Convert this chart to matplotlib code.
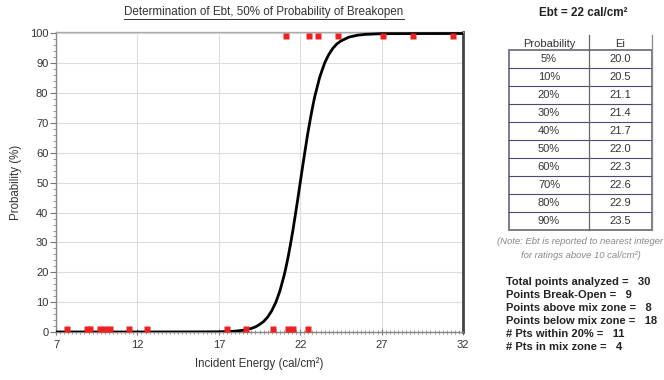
import matplotlib
matplotlib.use("Agg")
import matplotlib.pyplot as plt
from matplotlib.lines import Line2D
from matplotlib.patches import Rectangle
from matplotlib.ticker import MultipleLocator

plt.rcParams['font.family'] = ['Liberation Sans', 'DejaVu Sans']

# ---------------- data ----------------
broke_x = [21.1, 22.56, 23.1, 24.35, 27.06, 28.95, 31.37]
broke_y = [99, 99, 99, 99, 99, 99, 99]
held_x = [7.66, 8.9, 9.1, 9.7, 10.0, 10.3, 11.5, 12.6, 17.5, 18.7, 20.3, 21.25, 21.56, 22.5]
held_y = [1, 1, 1, 1, 1, 1, 1, 1, 1, 1, 1, 1, 1, 1]

curve_x = [7, 12, 15, 17, 18, 18.5, 19, 19.25, 19.5, 19.75, 20.0, 20.25, 20.5, 20.75,
           21.0, 21.1, 21.25, 21.4, 21.55, 21.7, 21.85, 22.0, 22.15, 22.3, 22.45, 22.6,
           22.75, 22.9, 23.2, 23.5, 23.75, 24.0, 24.25, 24.5, 25.0, 25.5, 26.0, 27.0, 32.0]
curve_y = [0, 0, 0.01, 0.06, 0.28, 0.58, 1.2, 1.7, 2.5, 3.5, 5.0, 7.1, 9.9, 13.7,
           18.7, 21.0, 24.9, 29.3, 34.0, 39.2, 44.5, 50.0, 55.5, 60.8, 66.0, 70.7,
           75.1, 79.0, 85.4, 90.1, 92.9, 95.0, 96.5, 97.5, 98.8, 99.4, 99.7, 99.94, 100]

table_prob = ['5%', '10%', '20%', '30%', '40%', '50%', '60%', '70%', '80%', '90%']
table_ei = [20.0, 20.5, 21.1, 21.4, 21.7, 22.0, 22.3, 22.6, 22.9, 23.5]

stats_labels = ['Total points analyzed =', 'Points Break-Open =', 'Points above mix zone =',
                'Points below mix zone =', '# Pts within 20% =', '# Pts in mix zone =']
stats_values = [30, 9, 8, 18, 11, 4]

x_ticks = [7, 12, 17, 22, 27, 32]
y_ticks = [0, 10, 20, 30, 40, 50, 60, 70, 80, 90, 100]

title = 'Determination of Ebt, 50% of Probability of Breakopen'
ebt_text = 'Ebt = 22 cal/cm\u00b2'

# ---------------- figure ----------------
W, H = 664, 380
fig = plt.figure(figsize=(W / 100, H / 100), dpi=100)


def fx(px):
    return px / W


def fy(py):
    return 1 - py / H


ax = fig.add_axes([fx(56), fy(332), fx(463) - fx(56), fy(32) - fy(332)])
ax.set_xlim(7, 32)
ax.set_ylim(0, 100.5)

ax.plot(curve_x, curve_y, color='black', lw=2.0, zorder=3, solid_capstyle='round',
        solid_joinstyle='round')
ax.plot(held_x, held_y, 's', color='#ee2020', ms=4.5, mec='none', zorder=4, clip_on=False)
ax.plot(broke_x, broke_y, 's', color='#ee2020', ms=4.5, mec='none', zorder=4, clip_on=False)

ax.set_xticks(x_ticks)
ax.set_yticks(y_ticks)
ax.xaxis.set_minor_locator(MultipleLocator(0.25))
ax.yaxis.set_minor_locator(MultipleLocator(2))
ax.grid(True, which='major', color='#dcdcdc', lw=0.8)
ax.tick_params(axis='both', which='major', labelsize=8, length=4, color='#777777',
               labelcolor='#333333')
ax.tick_params(axis='x', which='major', pad=4)
ax.tick_params(axis='y', which='major', pad=1.5)
ax.tick_params(axis='both', which='minor', length=2.5, color='#888888')
ax.tick_params(axis='x', which='both', direction='inout')
ax.tick_params(axis='y', which='both', direction='out')

for s in ['left', 'bottom']:
    ax.spines[s].set_color('#888888')
    ax.spines[s].set_linewidth(1.0)
ax.spines['top'].set_color('#aaaaaa')
ax.spines['top'].set_linewidth(1.0)
ax.spines['right'].set_color('#444444')
ax.spines['right'].set_linewidth(2.0)

ax.set_xlabel('Incident Energy (cal/cm\u00b2)', fontsize=8.3, color='#333333', labelpad=5)
ax.set_ylabel('Probability (%)', fontsize=8.3, color='#333333', labelpad=6)

# title with underline
t = fig.text(fx(264), fy(12), title, ha='center', va='center', fontsize=8.4, color='#333333')
fig.canvas.draw()
bb = t.get_window_extent(fig.canvas.get_renderer())
fig.add_artist(Line2D([bb.x0 / W, bb.x1 / W], [(bb.y0 - 1) / H, (bb.y0 - 1) / H],
                      transform=fig.transFigure, color='#333333', lw=0.7))

# right panel
fig.text(fx(583), fy(13), ebt_text, ha='center', va='center', fontsize=8.4,
         fontweight='bold', color='#222222')

tl, tr, td = 509, 652, 589
top, row_h = 50, 18
nrows = len(table_prob)
bottom = top + row_h * nrows

fig.text(fx((tl + td) / 2), fy(44), 'Probability', ha='center', va='center',
         fontsize=8, color='#333333')
fig.text(fx((td + tr) / 2), fy(44), 'Ei', ha='center', va='center',
         fontsize=8, color='#333333')

for i, (p, e) in enumerate(zip(table_prob, table_ei)):
    yc = top + row_h * (i + 0.5)
    fig.text(fx((tl + td) / 2), fy(yc), p, ha='center', va='center', fontsize=8, color='#333333')
    fig.text(fx((td + tr) / 2), fy(yc), f'{e:.1f}', ha='center', va='center', fontsize=8,
             color='#333333')
    if i > 0:
        yl = top + row_h * i
        fig.add_artist(Line2D([fx(tl), fx(tr)], [fy(yl), fy(yl)], transform=fig.transFigure,
                              color='#4a4a7a', lw=0.8))

fig.add_artist(Rectangle((fx(tl), fy(bottom)), fx(tr) - fx(tl), fy(top) - fy(bottom),
                         transform=fig.transFigure, fill=False, ec='#666677', lw=1.2))
fig.add_artist(Line2D([fx(td), fx(td)], [fy(35), fy(bottom)], transform=fig.transFigure,
                      color='#666666', lw=0.9))
fig.add_artist(Line2D([fx(tr), fx(tr)], [fy(35), fy(bottom)], transform=fig.transFigure,
                      color='#888888', lw=0.9))

fig.text(fx(497), fy(241), '(Note: Ebt is reported to nearest integer', ha='left', va='center',
         fontsize=6.8, style='italic', color='#888888')
fig.text(fx(581), fy(255), 'for ratings above 10 cal/cm\u00b2)', ha='center', va='center',
         fontsize=6.8, style='italic', color='#888888')

stat_y = [282, 295, 308, 321, 334, 347]
for lab, val, yy in zip(stats_labels, stats_values, stat_y):
    fig.text(fx(506), fy(yy), f'{lab}   {val}', ha='left', va='center', fontsize=8,
             fontweight='bold', color='#222222')

fig.savefig('out.png', dpi=100)
